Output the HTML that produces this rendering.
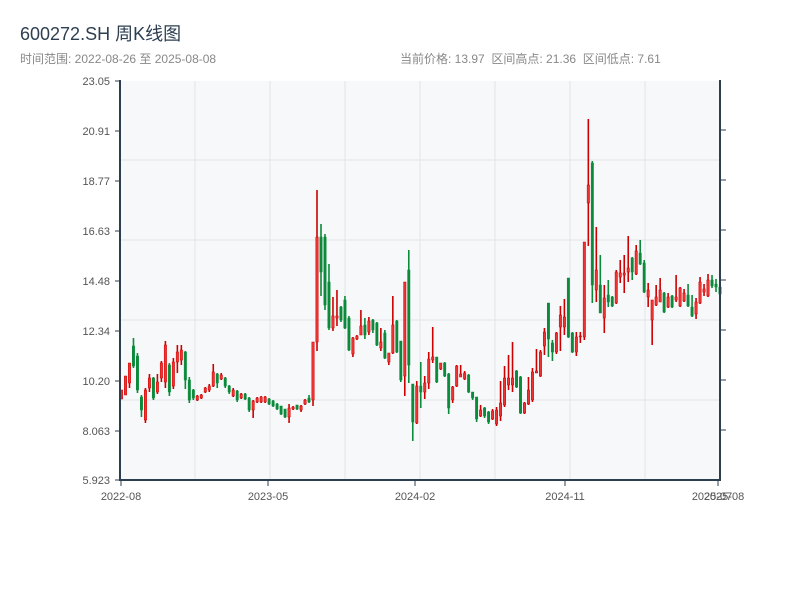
<!DOCTYPE html>
<html><head><meta charset="utf-8"><style>
body{margin:0;background:#fff;width:800px;height:600px;overflow:hidden;font-family:"Liberation Sans","Noto Sans CJK SC",sans-serif}
</style></head><body>
<svg id="s" width="800" height="600" xmlns="http://www.w3.org/2000/svg" font-family="Liberation Sans, Noto Sans CJK SC, sans-serif">
<text x="20" y="40" font-size="18" fill="#2c3e50">600272.SH 周K线图</text>
<text x="20" y="63" font-size="12" fill="#888">时间范围: 2022-08-26 至 2025-08-08</text>
<text x="400" y="63" font-size="12" fill="#888" style="white-space:pre">当前价格: 13.97  区间高点: 21.36  区间低点: 7.61</text>
<rect x="120" y="81" width="600" height="399" fill="#f7f8fa"/>
<g stroke="#e1e4ea" stroke-width="1">
<line x1="120" y1="160" x2="720" y2="160"/><line x1="120" y1="240" x2="720" y2="240"/><line x1="120" y1="320" x2="720" y2="320"/><line x1="120" y1="400" x2="720" y2="400"/>
<line x1="195" y1="81" x2="195" y2="480"/><line x1="270" y1="81" x2="270" y2="480"/><line x1="345" y1="81" x2="345" y2="480"/><line x1="420" y1="81" x2="420" y2="480"/><line x1="495" y1="81" x2="495" y2="480"/><line x1="570" y1="81" x2="570" y2="480"/><line x1="645" y1="81" x2="645" y2="480"/>
</g>
<g id="c"></g>
<g stroke="#2c3e50" stroke-width="2">
<line x1="120" y1="80" x2="120" y2="481"/><line x1="119" y1="480" x2="721" y2="480"/><line x1="720" y1="80" x2="720" y2="481"/>
</g>
<g stroke="#2c3e50" stroke-width="1">
<line x1="115" y1="81" x2="120" y2="81"/><line x1="115" y1="131" x2="120" y2="131"/><line x1="115" y1="181" x2="120" y2="181"/><line x1="115" y1="231" x2="120" y2="231"/><line x1="115" y1="281" x2="120" y2="281"/><line x1="115" y1="331" x2="120" y2="331"/><line x1="115" y1="381" x2="120" y2="381"/><line x1="115" y1="431" x2="120" y2="431"/><line x1="115" y1="480" x2="120" y2="480"/>
<line x1="720" y1="130" x2="726" y2="130"/><line x1="720" y1="180" x2="726" y2="180"/><line x1="720" y1="230" x2="726" y2="230"/><line x1="720" y1="280" x2="726" y2="280"/><line x1="720" y1="330" x2="726" y2="330"/><line x1="720" y1="380" x2="726" y2="380"/><line x1="720" y1="430" x2="726" y2="430"/>
<line x1="121" y1="480" x2="121" y2="486"/><line x1="268" y1="480" x2="268" y2="486"/><line x1="415" y1="480" x2="415" y2="486"/><line x1="565" y1="480" x2="565" y2="486"/><line x1="718" y1="480" x2="718" y2="486"/>
</g>
<g font-size="11" fill="#555" text-anchor="end">
<text x="110" y="85">23.05</text><text x="110" y="135">20.91</text><text x="110" y="185">18.77</text><text x="110" y="235">16.63</text><text x="110" y="285">14.48</text><text x="110" y="335">12.34</text><text x="110" y="385">10.20</text><text x="110" y="435">8.063</text><text x="110" y="484">5.923</text>
</g>
<g font-size="11" fill="#555" text-anchor="middle">
<text x="121" y="500">2022-08</text><text x="268" y="500">2023-05</text><text x="415" y="500">2024-02</text><text x="565" y="500">2024-11</text><text x="712" y="500">2025-07</text><text x="724" y="500">2025-08</text>
</g>
</svg>
<script>
var d=[
[390,399,390,399,1],[376,395,376,395,1],[363,388,363,383,1],[338,368,346,366,0],[353,393,356,390,0],[395,417,397,410,0],[388,423,390,420,1],[374,392,378,388,1],[377,400,378,398,0],[374,394,382,392,1],
[361,382,363,378,1],[341,388,345,382,1],[363,396,365,392,0],[358,389,362,386,1],[345,373,352,362,1],[345,365,350,360,1],[351,389,352,380,0],[377,403,380,400,0],[389,400,390,398,0],[395,401,396,400,1],
[394,399,395,398,1],[387,393,388,392,1],[384,392,386,390,1],[364,387,372,386,1],[373,388,374,383,0],[373,380,375,379,1],[377,388,378,386,0],[385,394,386,392,0],[388,397,390,396,1],[390,402,391,400,0],
[393,399,394,398,1],[393,400,394,399,0],[397,412,398,410,0],[400,418,401,410,1],[397,403,398,402,1],[396,403,397,402,1],[396,403,397,402,1],[398,405,399,404,0],[400,407,401,406,0],[403,410,404,409,0],
[406,415,406,414,0],[409,418,409,417,0],[404,423,408,417,1],[406,410,407,409,1],[405,410,405,409,0],[405,412,406,410,1],[399,405,400,404,1],[395,403,398,402,0],[342,406,342,400,1],[190,351,237,342,1],
[224,296,237,272,0],[234,310,237,305,0],[264,330,282,328,0],[297,331,316,328,1],[290,326,316,318,1],[306,322,307,320,0],[296,329,300,328,0],[316,351,318,350,0],[337,357,338,354,1],[335,340,336,339,1],
[310,335,326,335,1],[318,339,325,335,0],[317,335,321,332,1],[319,333,320,330,0],[322,346,323,345,0],[328,351,342,348,1],[330,359,333,358,0],[353,365,353,362,1],[296,354,325,353,1],[320,353,321,352,0],
[341,382,341,380,0],[282,396,282,376,1],[250,383,270,365,0],[384,441,384,422,0],[381,424,386,423,1],[362,408,386,392,0],[376,399,383,392,1],[352,389,359,383,1],[327,363,357,360,1],[357,383,357,382,0],
[363,370,363,369,1],[362,377,363,376,0],[373,414,374,408,0],[386,403,387,400,1],[365,387,366,386,1],[365,377,374,377,1],[371,380,373,379,1],[374,393,375,392,0],[392,400,392,398,0],[397,422,397,419,0],
[405,417,410,416,1],[407,418,408,416,0],[411,424,412,422,0],[409,420,411,419,1],[407,426,410,424,1],[381,421,403,416,1],[366,407,378,405,1],[355,390,378,385,1],[342,392,378,385,1],[370,388,371,387,0],
[376,414,377,413,0],[402,414,403,413,1],[377,405,390,404,1],[368,402,372,400,1],[349,373,371,373,1],[350,377,352,376,1],[328,355,332,346,1],[303,357,303,339,0],[340,361,343,352,0],[332,354,333,352,1],
[306,351,315,327,1],[299,335,317,327,1],[278,338,278,337,0],[332,353,333,352,0],[332,356,337,352,1],[332,343,336,337,1],[242,340,242,337,1],[119,246,185,203,1],[161,303,163,285,0],[227,302,270,290,1],
[255,313,285,313,0],[285,333,298,318,1],[280,307,295,302,0],[296,307,297,306,0],[270,304,272,303,1],[260,283,273,277,1],[255,293,273,275,1],[236,282,268,272,1],[257,280,258,272,0],[245,275,251,274,1],
[240,265,253,264,0],[260,293,263,292,0],[283,307,290,297,1],[300,345,300,320,1],[285,306,297,305,1],[278,302,290,302,1],[292,313,293,312,0],[293,308,297,307,1],[295,308,296,307,0],[275,302,297,300,1],
[287,307,288,306,1],[289,302,293,301,1],[284,307,295,306,0],[295,317,307,316,0],[298,319,302,314,1],[277,304,282,303,1],[284,296,289,292,1],[274,297,280,296,1],[275,288,280,286,0],[279,292,284,287,0],[286,296,287,294,0]
];
var g=document.getElementById('c'),h='';
d.forEach(function(c,i){var x=120.5+i*3.99;var col=c[4]?'#cc0000':'#0a8a3a';
h+='<line x1="'+(x+1)+'" y1="'+c[0]+'" x2="'+(x+1)+'" y2="'+c[1]+'" stroke="'+col+'" stroke-width="1.6"/>';
h+='<rect x="'+(x-0.2)+'" y="'+c[2]+'" width="2.4" height="'+Math.max(1,c[3]-c[2])+'" fill="'+(c[4]?'#ee3333':col)+'" stroke="'+col+'" stroke-width="0.5"/>';});
g.innerHTML=h;
</script>
</body></html>
